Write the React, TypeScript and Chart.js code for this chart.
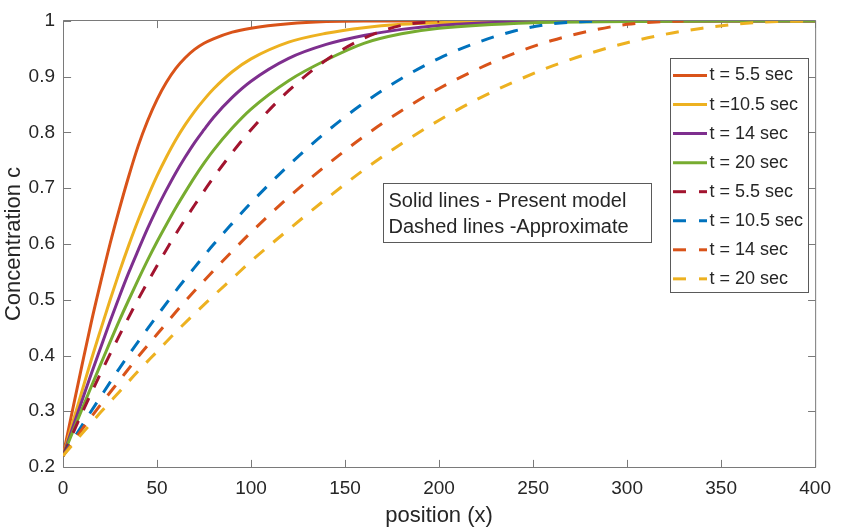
import React, { useEffect, useRef } from 'react';
import { Chart, registerables } from 'chart.js';

Chart.register(...registerables);

// Axis ticks
const X_TICKS = [0, 50, 100, 150, 200, 250, 300, 350, 400];
const X_TICK_LABELS = ['0', '50', '100', '150', '200', '250', '300', '350', '400'];
const Y_TICKS = [0.2, 0.3, 0.4, 0.5, 0.6, 0.7, 0.8, 0.9, 1];
const Y_TICK_LABELS = ['0.2', '0.3', '0.4', '0.5', '0.6', '0.7', '0.8', '0.9', '1'];

// Present model (solid lines), sampled positions
const SOLID_X = [0, 5, 10, 15, 20, 25, 30, 35, 40, 45, 50, 55, 60, 65, 70, 75, 80, 90, 100, 120, 140, 160, 180, 200, 250, 300, 350, 400];
const SOLID_T55 = [0.22, 0.301, 0.381, 0.459, 0.531, 0.6, 0.663, 0.722, 0.776, 0.821, 0.859, 0.89, 0.915, 0.934, 0.949, 0.96, 0.968, 0.98, 0.987, 0.995, 0.999, 1, 1, 1, 1, 1, 1, 1];
const SOLID_T105 = [0.22, 0.278, 0.335, 0.392, 0.446, 0.499, 0.55, 0.598, 0.643, 0.684, 0.722, 0.756, 0.787, 0.814, 0.838, 0.859, 0.878, 0.909, 0.932, 0.962, 0.978, 0.988, 0.994, 0.997, 1, 1, 1, 1];
const SOLID_T14 = [0.22, 0.269, 0.318, 0.367, 0.414, 0.461, 0.506, 0.549, 0.589, 0.628, 0.664, 0.697, 0.728, 0.756, 0.782, 0.805, 0.827, 0.863, 0.892, 0.933, 0.958, 0.974, 0.985, 0.992, 0.999, 1, 1, 1];
const SOLID_T20 = [0.22, 0.2615, 0.303, 0.344, 0.384, 0.424, 0.463, 0.5, 0.536, 0.571, 0.604, 0.635, 0.665, 0.693, 0.72, 0.745, 0.768, 0.808, 0.842, 0.893, 0.93, 0.96, 0.977, 0.987, 0.997, 0.999, 1, 1];

// Approximate model (dashed lines)
const DASH_X_T55 = [0, 10, 20, 30, 40, 50, 60, 70, 80, 90, 100, 120, 140, 160, 180, 200];
const DASH_T55 = [0.22, 0.296, 0.368, 0.436, 0.501, 0.561, 0.618, 0.67, 0.719, 0.764, 0.805, 0.875, 0.93, 0.969, 0.992, 1];
const DASH_X_T105 = [0, 10, 20, 30, 40, 50, 60, 70, 80, 90, 100, 120, 140, 160, 180, 200, 220, 240, 260, 283];
const DASH_T105 = [0.22, 0.274, 0.326, 0.377, 0.425, 0.471, 0.516, 0.558, 0.599, 0.637, 0.674, 0.741, 0.801, 0.853, 0.897, 0.933, 0.961, 0.982, 0.995, 1];
const DASH_X_T14 = [0, 10, 20, 30, 40, 50, 60, 70, 80, 90, 100, 120, 140, 160, 180, 200, 220, 240, 260, 280, 300, 320, 330];
const DASH_T14 = [0.22, 0.267, 0.312, 0.355, 0.398, 0.438, 0.478, 0.516, 0.552, 0.587, 0.621, 0.684, 0.741, 0.793, 0.839, 0.879, 0.913, 0.942, 0.965, 0.982, 0.994, 0.999, 1];
const DASH_X_T20 = [0, 10, 20, 30, 40, 50, 60, 70, 80, 90, 100, 120, 140, 160, 180, 200, 220, 240, 260, 280, 300, 320, 340, 360, 380, 400];
const DASH_T20 = [0.22, 0.2595, 0.298, 0.335, 0.372, 0.407, 0.442, 0.475, 0.507, 0.538, 0.569, 0.626, 0.681, 0.733, 0.78, 0.822, 0.859, 0.891, 0.919, 0.942, 0.961, 0.976, 0.987, 0.995, 0.999, 1];

const LEGEND_LABELS = ['t = 5.5 sec', 't =10.5 sec', 't = 14 sec', 't = 20 sec', 't = 5.5 sec', 't = 10.5 sec', 't = 14 sec', 't = 20 sec'];
const NOTE_LINES = ['Solid lines - Present model', 'Dashed lines -Approximate'];

const C_ORANGE = '#D95319';
const C_YELLOW = '#EDB120';
const C_PURPLE = '#7E2F8E';
const C_GREEN = '#77AC30';
const C_DARKRED = '#A2142F';
const C_BLUE = '#0072BD';

const FONT = "'Liberation Sans', Arial, Helvetica, sans-serif";
const TEXT = '#262626';
const AXIS = '#7a7a7a';
const DASH = [13, 12];

const pts = (xs: number[], ys: number[]) => xs.map((x, i) => ({ x, y: ys[i] }));

// Box around the plot with inward ticks on all four sides
const frame = {
  id: 'frame',
  beforeDatasetsDraw(chart: any) {
    const { ctx, chartArea: a, scales } = chart;
    const xs = scales.x;
    const ys = scales.y;
    const tl = 7.6;
    const L = a.left + 0.5;
    const R = a.right + 0.5;
    const T = a.top - 0.5;
    const B = a.bottom + 0.5;
    ctx.save();
    ctx.strokeStyle = AXIS;
    ctx.lineWidth = 1;
    ctx.beginPath();
    ctx.rect(L, T, R - L, B - T);
    X_TICKS.forEach((v) => {
      const px = Math.round(xs.getPixelForValue(v)) + 0.5;
      ctx.moveTo(px, B);
      ctx.lineTo(px, B - tl);
      ctx.moveTo(px, T);
      ctx.lineTo(px, T + tl);
    });
    Y_TICKS.forEach((v) => {
      const py = Math.round(ys.getPixelForValue(v)) + 0.5;
      ctx.moveTo(L, py);
      ctx.lineTo(L + tl, py);
      ctx.moveTo(R, py);
      ctx.lineTo(R - tl, py);
    });
    ctx.stroke();
    ctx.restore();
  },
};

// Legend box and note box drawn inside the plot
const overlays = {
  id: 'overlays',
  afterDraw(chart: any) {
    const { ctx } = chart;
    ctx.save();

    // legend
    const lx = 670.5, ly = 58.5, lw = 138, lh = 234;
    ctx.fillStyle = '#ffffff';
    ctx.fillRect(lx, ly, lw, lh);
    ctx.strokeStyle = '#5a5a5a';
    ctx.lineWidth = 1;
    ctx.strokeRect(lx, ly, lw, lh);
    ctx.font = `18px ${FONT}`;
    ctx.textBaseline = 'middle';
    ctx.textAlign = 'left';
    chart.data.datasets.forEach((ds: any, i: number) => {
      const cy = 75.5 + i * 29.05;
      ctx.save();
      ctx.strokeStyle = ds.borderColor;
      ctx.lineWidth = ds.borderWidth;
      ctx.lineCap = 'butt';
      ctx.setLineDash(ds.borderDash && ds.borderDash.length ? [13, 13] : []);
      ctx.beginPath();
      ctx.moveTo(673, cy);
      ctx.lineTo(707, cy);
      ctx.stroke();
      ctx.restore();
      ctx.fillStyle = TEXT;
      ctx.fillText(ds.label, 709.5, cy);
    });

    // note
    const nx = 383.5, ny = 183.5, nw = 268, nh = 59;
    ctx.fillStyle = '#ffffff';
    ctx.fillRect(nx, ny, nw, nh);
    ctx.strokeStyle = '#5a5a5a';
    ctx.strokeRect(nx, ny, nw, nh);
    ctx.font = `20px ${FONT}`;
    ctx.fillStyle = TEXT;
    NOTE_LINES.forEach((t, i) => {
      ctx.fillText(t, 388.5, 201 + i * 26);
    });
    ctx.restore();
  },
};

export default function App() {
  const ref = useRef<HTMLCanvasElement | null>(null);

  useEffect(() => {
    if (!ref.current) return;
    const solid = (label: string, color: string, xs: number[], ys: number[], order: number) => ({
      label,
      data: pts(xs, ys),
      borderColor: color,
      backgroundColor: color,
      borderWidth: 3,
      borderDash: [] as number[],
      pointRadius: 0,
      fill: false,
      cubicInterpolationMode: 'monotone' as const,
      order,
    });
    const dashed = (label: string, color: string, xs: number[], ys: number[], order: number) => ({
      ...solid(label, color, xs, ys, order),
      borderDash: DASH,
      borderCapStyle: 'butt' as const,
    });

    const chart = new Chart(ref.current, {
      type: 'line',
      data: {
        datasets: [
          solid(LEGEND_LABELS[0], C_ORANGE, SOLID_X, SOLID_T55, 8),
          solid(LEGEND_LABELS[1], C_YELLOW, SOLID_X, SOLID_T105, 7),
          solid(LEGEND_LABELS[2], C_PURPLE, SOLID_X, SOLID_T14, 6),
          solid(LEGEND_LABELS[3], C_GREEN, SOLID_X, SOLID_T20, 5),
          dashed(LEGEND_LABELS[4], C_DARKRED, DASH_X_T55, DASH_T55, 4),
          dashed(LEGEND_LABELS[5], C_BLUE, DASH_X_T105, DASH_T105, 3),
          dashed(LEGEND_LABELS[6], C_ORANGE, DASH_X_T14, DASH_T14, 2),
          dashed(LEGEND_LABELS[7], C_YELLOW, DASH_X_T20, DASH_T20, 1),
        ],
      },
      options: {
        responsive: false,
        animation: false,
        devicePixelRatio: 1,
        layout: { padding: { top: 21, right: 18, bottom: 0, left: 0 } },
        plugins: {
          legend: { display: false },
          tooltip: { enabled: false },
          title: { display: false },
        },
        scales: {
          x: {
            type: 'linear',
            min: 0,
            max: 400,
            grid: { display: false, drawTicks: false },
            border: { display: false },
            afterBuildTicks: (s: any) => {
              s.ticks = X_TICKS.map((value) => ({ value }));
            },
            afterFit: (s: any) => {
              s.height = 62;
            },
            ticks: {
              autoSkip: false,
              maxRotation: 0,
              padding: 10,
              color: TEXT,
              font: { family: FONT, size: 19 },
              callback: (_v: any, i: number) => X_TICK_LABELS[i],
            },
            title: {
              display: true,
              text: 'position (x)',
              color: TEXT,
              font: { family: FONT, size: 22 },
              padding: { top: 0, bottom: 0 },
            },
          },
          y: {
            type: 'linear',
            min: 0.2,
            max: 1,
            grid: { display: false, drawTicks: false },
            border: { display: false },
            afterBuildTicks: (s: any) => {
              s.ticks = Y_TICKS.map((value) => ({ value }));
            },
            afterFit: (s: any) => {
              s.width = 63;
            },
            ticks: {
              autoSkip: false,
              padding: 8,
              color: TEXT,
              font: { family: FONT, size: 19 },
              callback: (_v: any, i: number) => Y_TICK_LABELS[i],
            },
            title: {
              display: true,
              text: 'Concentration c',
              color: TEXT,
              font: { family: FONT, size: 22 },
              padding: { top: 1, bottom: 0 },
            },
          },
        },
      },
      plugins: [frame, overlays],
    });
    return () => chart.destroy();
  }, []);

  return (
    <div style={{ position: 'absolute', left: 0, top: 0, width: 841, height: 529, background: '#ffffff' }}>
      <canvas ref={ref} width={841} height={529} style={{ display: 'block' }} />
    </div>
  );
}
